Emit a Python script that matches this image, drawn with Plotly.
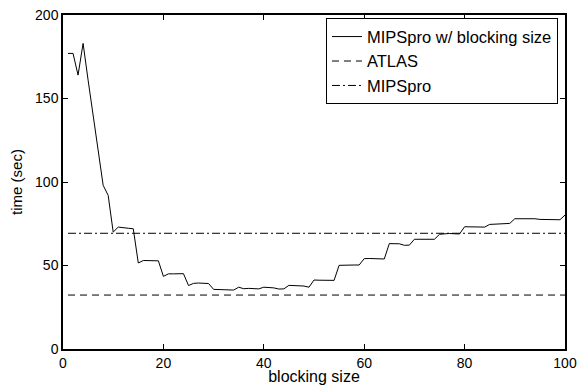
import plotly.graph_objects as go

block_sizes = list(range(1, 101))
mipspro_block = [
    177, 177, 164, 183, 161, 139, 117, 98, 92, 70,
    73, 72.5, 72.3, 72, 51.5, 53, 53, 53, 52.8, 43.5,
    45, 45, 45.2, 45.1, 38, 39.3, 39.5, 39.4, 39.2, 35.7,
    35.6, 35.5, 35.5, 35.3, 37, 36.1, 36.3, 36.2, 36, 37,
    36.8, 36.6, 35.9, 36, 38.1, 38, 37.9, 37.7, 37, 41.3,
    41.2, 41.2, 41.1, 41.1, 50.1, 50.3, 50.2, 50.3, 50.3, 54.1,
    54.2, 54, 54, 53.9, 63.1, 63.2, 63, 62.1, 62.2, 65.7,
    65.8, 65.7, 65.8, 65.7, 68.7, 69, 69.2, 69, 68.9, 73.2,
    73.2, 73.1, 73, 73, 74.6, 74.8, 74.9, 75, 75.2, 78,
    78.1, 78.1, 78, 78, 77.6, 77.6, 77.5, 77.4, 77.4, 80.2,
]
atlas_x = [1, 100]
atlas_y = [32.3, 32.3]
mipspro_x = [1, 100]
mipspro_y = [69.3, 69.3]

x_ticks = [0, 20, 40, 60, 80, 100]
y_ticks = [0, 50, 100, 150, 200]

font_family = "Liberation Sans, Arial, sans-serif"

fig = go.Figure()
fig.add_trace(go.Scatter(x=block_sizes, y=mipspro_block, mode="lines",
                         name="MIPSpro w/ blocking size",
                         line=dict(color="black", width=1)))
fig.add_trace(go.Scatter(x=atlas_x, y=atlas_y, mode="lines", name="ATLAS",
                         line=dict(color="black", width=1, dash="7px,5px")))
fig.add_trace(go.Scatter(x=mipspro_x, y=mipspro_y, mode="lines", name="MIPSpro",
                         line=dict(color="black", width=1, dash="8px,3px,2px,3px")))

axis_common = dict(showline=True, linecolor="black", linewidth=1.5, mirror="ticks",
                   ticks="inside", ticklen=5, tickcolor="black", showgrid=False,
                   zeroline=False, automargin=False,
                   tickfont=dict(size=14, color="black", family=font_family))

fig.update_xaxes(range=[0, 100], tickvals=x_ticks,
                 title=dict(text="blocking size", font=dict(size=16, color="black", family=font_family),
                            standoff=0),
                 **axis_common)
fig.update_yaxes(range=[0, 200], tickvals=y_ticks,
                 title=dict(text="time (sec)", font=dict(size=15, color="black", family=font_family),
                            standoff=9),
                 **axis_common)

fig.update_layout(
    width=580, height=385,
    margin=dict(l=63, r=15, t=15, b=36),
    paper_bgcolor="white", plot_bgcolor="white",
    font=dict(family=font_family, color="black"),
    legend=dict(x=0.986, y=0.99, xanchor="right", yanchor="top",
                bordercolor="black", borderwidth=1, bgcolor="white",
                font=dict(size=16.5, color="black", family=font_family),
                tracegroupgap=0, itemwidth=30),
    showlegend=True,
)

fig.write_html("out.html")
